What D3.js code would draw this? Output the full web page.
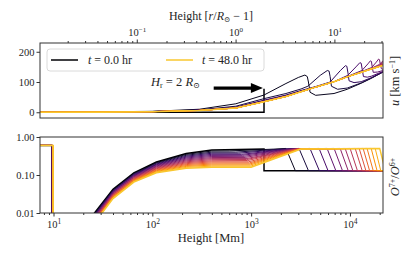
<!DOCTYPE html>
<html>
<head>
<meta charset="utf-8">
<script src="https://cdn.jsdelivr.net/npm/d3@7"></script>
<style>
  body { margin: 0; background: #fff; }
  svg text { font-family: "Liberation Serif", "DejaVu Serif", serif; fill: #262626; }
</style>
</head>
<body>
<svg id="chart" width="415" height="260"></svg>
<script>
/* two panels: wind speed and O7+/O6+ vs height, one curve per output time */

var RSUN = 696; // Mm
var times = [0, 3, 6, 9, 12, 15, 18, 21, 24, 27, 30, 33, 36, 39, 42, 45, 48];
var heightDomain = [7.3, 21600];
var uDomain = [-19, 229];
var uTicks = [0, 100, 200];
var ratioTicks = [0.01, 0.1, 1];
var ratioTickLabels = ['0.01', '0.10', '1.00'];
var heightMajor = [10, 100, 1000, 10000];
var rMajor = [0.1, 1, 10];
var legendTimes = ['0.0', '48.0'];
var arrowFrom = [418, 80], arrowTo = [1315, 80];

// u [km/s] vs height [Mm]
var uCurves = [
  [[7.3,0],[1350,0],[1350,78]],
  [[7.3,0],[100,3],[300,10],[700,28],[1350,57],[2250,95],[3000,115],[3500,123],[3700,118],[3800,100],[3950,66],[4500,56],[6900,62],[9380,76],[13000,96],[16400,112],[21600,133]],
  [[7.3,0],[100,2.6],[300,8],[700,20],[1350,45],[2250,62],[3200,77],[3750,86],[5000,122],[5900,138],[6150,136],[6300,118],[6500,86],[7500,76],[9380,80],[13000,97],[16400,113],[21600,133]],
  [[7.3,0],[100,2.4],[300,7],[700,17],[1350,40],[2250,57],[3200,72],[4500,85],[6300,100],[8000,138],[9000,154],[9300,152],[9550,130],[9800,104],[11000,98],[13000,101],[16400,114],[21600,134]],
  [[7.3,0],[100,2.3],[300,6.6],[700,16],[1350,38],[2250,55],[3200,70],[4500,84],[6900,101],[9500,122],[11500,150],[12600,164],[13000,162],[13300,142],[13700,118],[15000,116],[16400,119],[21600,135]],
  [[7.3,0],[100,2.2],[300,6.4],[700,15],[1350,37],[2250,54],[3200,69],[4500,83],[6900,101],[9380,118],[13200,138],[15200,160],[16100,170],[16500,168],[16800,150],[17200,132],[19000,133],[21600,138]],
  [[7.3,0],[100,2.1],[300,6.2],[700,14.5],[1350,36],[2250,53],[3200,68],[4500,83],[6900,101],[9380,117],[13000,134],[16600,148],[18500,166],[19500,176],[19900,174],[20300,158],[20800,144],[21600,142]],
  [[7.3,0],[100,2],[300,6],[700,14],[1350,35],[2250,52],[3200,68],[4500,83],[6900,101],[9380,117],[13000,133],[16400,145],[19800,158],[21600,170]],
  [[7.3,0],[100,2],[300,6],[700,14],[1350,35],[2250,52],[3200,68],[4500,83],[6900,101],[9380,117],[13000,132],[16400,144],[19800,155],[21600,165]],
  [[7.3,0],[100,2],[300,6],[700,14],[1350,35],[2250,52],[3200,68],[4500,83],[6900,101],[9380,117],[13000,132],[16400,143],[19800,153],[21600,161]],
  [[7.3,0],[100,2],[300,6],[700,14],[1350,35],[2250,52],[3200,68],[4500,83],[6900,101],[9380,117],[13000,132],[16400,143],[19800,152],[21600,158]],
  [[7.3,0],[100,2],[300,6],[700,14],[1350,35],[2250,52],[3200,68],[4500,83],[6900,101],[9380,117],[13000,132],[16400,143],[19800,151],[21600,157]],
  [[7.3,0],[100,2],[300,6],[700,14],[1350,35],[2250,52],[3200,68],[4500,83],[6900,101],[9380,117],[13000,132],[16400,143],[19800,151],[21600,156]],
  [[7.3,0],[100,2],[300,6],[700,14],[1350,35],[2250,52],[3200,68],[4500,83],[6900,101],[9380,117],[13000,132],[16400,143],[19800,151],[21600,155.5]],
  [[7.3,0],[100,2],[300,6],[700,14],[1350,35],[2250,52],[3200,68],[4500,83],[6900,101],[9380,117],[13000,132],[16400,143],[19800,151],[21600,155]],
  [[7.3,0],[100,2],[300,6],[700,14],[1350,35],[2250,52],[3200,68],[4500,83],[6900,101],[9380,117],[13000,132],[16400,143],[19800,151],[21600,155]],
  [[7.3,0],[30,0.3],[100,2],[300,6],[700,14],[1350,35],[2250,52],[3200,68],[4500,83],[6900,101],[9380,117],[13000,132],[16400,143],[19800,151],[21600,155]]
];

// O7+/O6+ vs height [Mm]
var ratioCurves = [
  [[7.3,.6],[9.6,.6],[9.6,.001],[13.7,.001],[26,.01],[40,.042],[65,.114],[110,.22],[220,.37],[400,.455],[1350,.48],[1350,.13],[21600,.13]],
  [[7.3,.6],[9.62,.6],[9.62,.001],[13.8,.001],[26.3,.01],[40,.0406],[65,.110],[110,.211],[220,.349],[400,.427],[600,.43],[1700,.48],[2250,.5],[2800,.13],[21600,.13]],
  [[7.3,.6],[9.64,.6],[9.64,.001],[14,.001],[26.6,.01],[40,.0392],[65,.106],[110,.203],[220,.330],[400,.399],[700,.40],[2000,.48],[3050,.5],[3800,.13],[21600,.13]],
  [[7.3,.6],[9.66,.6],[9.66,.001],[14.2,.001],[27,.01],[40,.0378],[65,.1026],[110,.1945],[220,.312],[400,.374],[750,.375],[2200,.48],[3940,.5],[4900,.13],[21600,.13]],
  [[7.3,.6],[9.68,.6],[9.68,.001],[14.4,.001],[27.3,.01],[40,.0365],[65,.0991],[110,.187],[220,.295],[400,.350],[800,.35],[2400,.48],[4870,.5],[6000,.13],[21600,.13]],
  [[7.3,.6],[9.7,.6],[9.7,.001],[14.5,.001],[27.6,.01],[40,.0352],[65,.0957],[110,.1795],[220,.279],[400,.328],[820,.33],[2500,.48],[5870,.5],[7200,.13],[21600,.13]],
  [[7.3,.6],[9.72,.6],[9.72,.001],[14.7,.001],[28,.01],[40,.034],[65,.0923],[110,.1726],[220,.2636],[400,.3076],[850,.31],[2600,.48],[6910,.5],[8400,.13],[21600,.13]],
  [[7.3,.6],[9.74,.6],[9.74,.001],[14.9,.001],[28.3,.01],[40,.0329],[65,.0891],[110,.1656],[220,.249],[400,.2877],[870,.29],[2700,.48],[7960,.5],[9600,.13],[21600,.13]],
  [[7.3,.6],[9.76,.6],[9.76,.001],[15,.001],[28.6,.01],[40,.0317],[65,.0861],[110,.159],[220,.2355],[400,.270],[890,.27],[2800,.48],[8940,.5],[10700,.13],[21600,.13]],
  [[7.3,.6],[9.78,.6],[9.78,.001],[15.2,.001],[29,.01],[40,.0306],[65,.0832],[110,.1528],[220,.2223],[400,.253],[900,.255],[2850,.48],[10040,.5],[11900,.13],[21600,.13]],
  [[7.3,.6],[9.8,.6],[9.8,.001],[15.4,.001],[29.3,.01],[40,.0296],[65,.0802],[110,.1466],[220,.2104],[400,.2366],[920,.24],[2900,.48],[11300,.5],[13300,.13],[21600,.13]],
  [[7.3,.6],[9.82,.6],[9.82,.001],[15.6,.001],[29.6,.01],[40,.0286],[65,.0774],[110,.141],[220,.1987],[400,.2218],[940,.222],[2950,.48],[12400,.5],[14500,.13],[21600,.13]],
  [[7.3,.6],[9.84,.6],[9.84,.001],[15.8,.001],[30,.01],[40,.0276],[65,.0748],[110,.1352],[220,.188],[400,.2075],[960,.208],[3000,.48],[13600,.5],[15800,.13],[21600,.13]],
  [[7.3,.6],[9.86,.6],[9.86,.001],[15.9,.001],[30.3,.01],[40,.0266],[65,.0723],[110,.130],[220,.1774],[400,.1945],[970,.195],[3050,.48],[14900,.5],[17200,.13],[21600,.13]],
  [[7.3,.6],[9.88,.6],[9.88,.001],[16.1,.001],[30.6,.01],[40,.0257],[65,.0697],[110,.1247],[220,.168],[400,.1824],[980,.183],[3100,.48],[16400,.5],[18800,.13],[21600,.13]],
  [[7.3,.6],[9.89,.6],[9.89,.001],[16.2,.001],[30.8,.01],[40,.0248],[65,.0673],[110,.12],[220,.1585],[400,.1706],[990,.171],[3150,.48],[18000,.5],[20500,.13],[21600,.13]],
  [[7.3,.6],[9.9,.6],[9.9,.001],[16.3,.001],[31,.01],[40,.024],[65,.065],[110,.115],[220,.15],[400,.16],[1000,.16],[3200,.48],[20000,.5],[22800,.13]]
];

var svg = d3.select('#chart');
var L = 40, R = 383;
var x = d3.scaleLog().domain(heightDomain).range([L, R]);
var xr = d3.scaleLog().domain(heightDomain.map(function(h) { return h / RSUN; })).range([L, R]);
var yU = d3.scaleLinear().domain(uDomain).range([118, 43]);
var yR = d3.scaleLog().domain([0.01, 1]).range([213, 137]);
var nT = times.length;
var color = function(k) { return d3.interpolateInferno(0.87 * k / (nT - 1)); };
var sup = function(sel, txt, size) {
  sel.append('tspan').attr('dy', -4.5).attr('font-size', size || 7.5).text(txt);
};

var defs = svg.append('defs');
defs.append('clipPath').attr('id', 'clipU').append('rect')
  .attr('x', L).attr('y', 43).attr('width', R - L).attr('height', 75);
defs.append('clipPath').attr('id', 'clipR').append('rect')
  .attr('x', L).attr('y', 137).attr('width', R - L).attr('height', 76);

// curves
var lineU = d3.line().x(function(d) { return x(d[0]); }).y(function(d) { return yU(d[1]); });
var lineR = d3.line().x(function(d) { return x(d[0]); }).y(function(d) { return yR(d[1]); });

svg.append('g').attr('clip-path', 'url(#clipU)')
  .selectAll('path').data(uCurves).enter().append('path')
    .attr('d', lineU)
    .attr('fill', 'none')
    .attr('stroke', function(d, i) { return color(i); })
    .attr('stroke-width', function(d, i) { return (i === 0 || i === nT - 1) ? 1.5 : 1; });

svg.append('g').attr('clip-path', 'url(#clipR)')
  .selectAll('path').data(ratioCurves).enter().append('path')
    .attr('d', lineR)
    .attr('fill', 'none')
    .attr('stroke', function(d, i) { return color(i); })
    .attr('stroke-width', function(d, i) { return (i === 0 || i === nT - 1) ? 1.5 : 1; });

// frames
[[43, 118], [137, 213]].forEach(function(p) {
  svg.append('rect').attr('x', L).attr('y', p[0]).attr('width', R - L).attr('height', p[1] - p[0])
    .attr('fill', 'none').attr('stroke', '#333').attr('stroke-width', 1);
});

function styleAxis(g) {
  g.select('.domain').remove();
  g.selectAll('line').attr('stroke', '#333');
  g.selectAll('text').attr('font-size', 10.5).attr('fill', '#262626');
}

// top panel: r/R - 1 axis on top
var minorR = xr.ticks().filter(function(v) { return rMajor.indexOf(v) < 0; });
svg.append('g').attr('transform', 'translate(0,43)')
  .call(d3.axisTop(xr).tickValues(minorR).tickSize(2).tickFormat(''))
  .call(styleAxis);
var gTopMaj = svg.append('g').attr('transform', 'translate(0,43)')
  .call(d3.axisTop(xr).tickValues(rMajor).tickSize(3.5).tickFormat(''))
  .call(styleAxis);
gTopMaj.selectAll('.tick').append('text')
  .attr('y', -7).attr('text-anchor', 'middle').attr('font-size', 10.5).attr('fill', '#262626')
  .each(function(d) {
    var t = d3.select(this);
    t.append('tspan').text('10');
    sup(t, String(Math.round(Math.log10(d))).replace('-', '\u2212'), 7);
  });

svg.append('g').attr('transform', 'translate(40,0)')
  .call(d3.axisLeft(yU).tickValues(uTicks).tickSize(3.5).tickPadding(2))
  .call(styleAxis);

// bottom panel axes
var minorH = x.ticks().filter(function(v) { return heightMajor.indexOf(v) < 0; });
svg.append('g').attr('transform', 'translate(0,213)')
  .call(d3.axisBottom(x).tickValues(minorH).tickSize(2).tickFormat(''))
  .call(styleAxis);
var gBotMaj = svg.append('g').attr('transform', 'translate(0,213)')
  .call(d3.axisBottom(x).tickValues(heightMajor).tickSize(3.5).tickFormat(''))
  .call(styleAxis);
gBotMaj.selectAll('.tick').append('text')
  .attr('y', 15).attr('text-anchor', 'middle').attr('font-size', 10.5).attr('fill', '#262626')
  .each(function(d) {
    var t = d3.select(this);
    t.append('tspan').text('10');
    sup(t, String(Math.round(Math.log10(d))));
  });

svg.append('g').attr('transform', 'translate(40,0)')
  .call(d3.axisLeft(yR).tickValues(ratioTicks).tickSize(3.5).tickPadding(2)
    .tickFormat(function(d, i) { return ratioTickLabels[i]; }))
  .call(styleAxis);

// axis labels
var topLab = svg.append('text').attr('x', 211).attr('y', 20).attr('text-anchor', 'middle').attr('font-size', 12);
topLab.append('tspan').text('Height [');
topLab.append('tspan').attr('font-style', 'italic').text('r');
topLab.append('tspan').text('/');
topLab.append('tspan').attr('font-style', 'italic').text('R');
topLab.append('tspan').attr('font-size', 7.5).attr('dy', 1.5).text('\u2299');
topLab.append('tspan').attr('dy', -1.5).text(' \u2212 1]');

svg.append('text').attr('x', 211).attr('y', 242).attr('text-anchor', 'middle').attr('font-size', 12.5)
  .text('Height [Mm]');

var uLab = svg.append('text').attr('transform', 'translate(399,81) rotate(-90)')
  .attr('text-anchor', 'middle').attr('font-size', 12.5);
uLab.append('tspan').attr('font-style', 'italic').text('u');
uLab.append('tspan').text(' [km s');
sup(uLab, '\u22121', 8);
uLab.append('tspan').attr('dy', 4.5).text(']');

var oLab = svg.append('text').attr('transform', 'translate(399,177) rotate(-90)')
  .attr('text-anchor', 'middle').attr('font-size', 12.5);
oLab.append('tspan').attr('font-style', 'italic').text('O');
sup(oLab, '7+', 8);
oLab.append('tspan').attr('dy', 4.5).text('/');
oLab.append('tspan').attr('font-style', 'italic').text('O');
sup(oLab, '6+', 8);

// legend
var lg = svg.append('g');
lg.append('rect').attr('x', 47).attr('y', 49).attr('width', 217).attr('height', 22).attr('rx', 3)
  .attr('fill', '#fff').attr('fill-opacity', 0.8).attr('stroke', '#d0d0d0').attr('stroke-width', 0.8);
[[51, 88, 0], [166, 202, nT - 1]].forEach(function(e, j) {
  lg.append('line').attr('x1', e[0]).attr('x2', e[0] + 27).attr('y1', 60).attr('y2', 60)
    .attr('stroke', color(e[2])).attr('stroke-width', 1.5);
  var t = lg.append('text').attr('x', e[1]).attr('y', 64).attr('font-size', 12);
  t.append('tspan').attr('font-style', 'italic').text('t');
  t.append('tspan').text(' = ' + legendTimes[j] + ' hr');
});

// H_r annotation and arrow
var ann = svg.append('text').attr('x', 151).attr('y', 86).attr('font-size', 12.5);
ann.append('tspan').attr('font-style', 'italic').text('H');
ann.append('tspan').attr('font-size', 8).attr('dy', 2).text('r');
ann.append('tspan').attr('dy', -2).text(' = 2 ');
ann.append('tspan').attr('font-style', 'italic').text('R');
ann.append('tspan').attr('font-size', 8).attr('dy', 2).text('\u2299');

var ax0 = x(arrowFrom[0]), ax1 = x(arrowTo[0]), ay = yU(arrowFrom[1]);
svg.append('line').attr('x1', ax0).attr('x2', ax1 - 10).attr('y1', ay).attr('y2', ay)
  .attr('stroke', '#000').attr('stroke-width', 3.2);
svg.append('path')
  .attr('d', 'M' + (ax1 - 12) + ',' + (ay - 5) + 'L' + ax1 + ',' + ay + 'L' + (ax1 - 12) + ',' + (ay + 5) + 'Z')
  .attr('fill', '#000');
</script>
</body>
</html>
